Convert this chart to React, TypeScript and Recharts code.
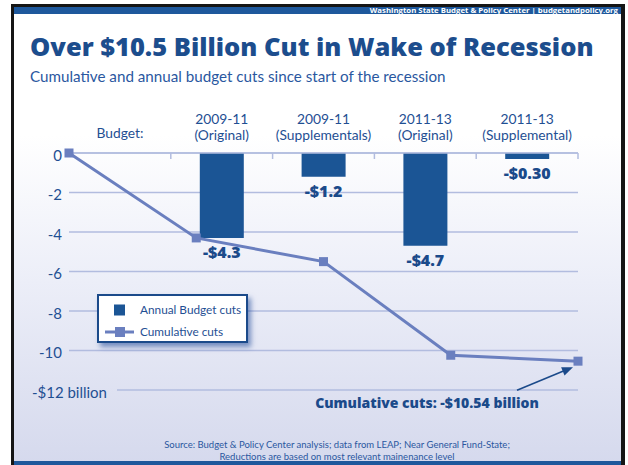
import React from 'react';
import { ComposedChart, Bar, Line, XAxis, YAxis, CartesianGrid, Legend, LabelList } from 'recharts';

const categories = ['Budget:', '2009-11\n(Original)', '2009-11\n(Supplementals)', '2011-13\n(Original)', '2011-13\n(Supplemental)'];
const annualCuts: (number | null)[] = [null, -4.3, -1.2, -4.7, -0.3];
const annualLabels = ['', '-$4.3', '-$1.2', '-$4.7', '-$0.30'];
const cumulativeCuts = [0, -4.3, -5.5, -10.24, -10.54];
const cumulativeNote = 'Cumulative cuts: -$10.54 billion';
const yTicks = [0, -2, -4, -6, -8, -10, -12];
const yTickLabels = ['0', '-2', '-4', '-6', '-8', '-10', '-$12 billion'];
const frameTicks = [0.5, 1, 1.5, 2, 2.5, 3, 3.5, 4, 4.5, 5];
const seriesNames = { annual: 'Annual Budget cuts', cum: 'Cumulative cuts' };

const data = categories.map((cat, i) => ({
  cat,
  idx: i,
  annual: annualCuts[i],
  annualLabel: annualLabels[i] || undefined,
  cum: cumulativeCuts[i],
  note: i === categories.length - 1 ? cumulativeNote : undefined,
}));

const BAR = '#1b5595';
const LINE = '#6a7fbf';
const GRID = '#b2bcdf';
const TEXT = '#1f4f93';
const DARK = '#1b4a8a';
const BODY = 'Lato, "Noto Sans", sans-serif';
const HEAVY = '"Open Sans", "Noto Sans", sans-serif';

const TopTick = (props: any) => {
  const { x, y, payload } = props;
  const v = payload.value;
  if (Number.isInteger(v)) {
    return <line x1={x} y1={y} x2={x} y2={y + 6} stroke={GRID} strokeWidth={1.5} />;
  }
  const lines = categories[Math.floor(v)].split('\n');
  const n = lines.length;
  const lastBase = n === 1 ? y - 15 : y - 13;
  return (
    <g>
      {lines.map((l, i) => (
        <text key={i} x={x} y={lastBase - (n - 1 - i) * 16.5} textAnchor="middle" fontFamily={BODY} fontSize={13.8} fill={TEXT}>
          {l}
        </text>
      ))}
    </g>
  );
};

const YTick = (props: any) => {
  const { x, y, payload } = props;
  const i = yTicks.indexOf(payload.value);
  const label = yTickLabels[i];
  const isLast = i === yTicks.length - 1;
  return (
    <text x={isLast ? x + 45 : x} y={y + 7.5} textAnchor="end" fontFamily={BODY} fontSize={15} fill={TEXT}>
      {label}
    </text>
  );
};

const GridLine = (p: any) => {
  const isBottom =
    p.y != null && p.height != null ? Math.abs(p.y1 - (p.y + p.height)) < 1 : p.index === yTicks.length - 1;
  return (
    <line key={p.key} x1={isBottom ? p.x1 + 48 : p.x1} y1={p.y1} x2={p.x2} y2={p.y2} stroke={GRID} strokeWidth={1.5} />
  );
};

const BarLabel = (props: any) => {
  if (!props.value) return null;
  const vb = props.viewBox || props;
  const bottom = Math.max(vb.y, vb.y + vb.height);
  return (
    <text x={vb.x + vb.width / 2} y={bottom + 20} textAnchor="middle" fontFamily={HEAVY} fontWeight={800} fontSize={16} fill={DARK}>
      {props.value}
    </text>
  );
};

const NoteLabel = (props: any) => {
  if (!props.value) return null;
  const vb = props.viewBox || props;
  const px = vb.x;
  const py = vb.y;
  const sx = px - 61;
  const sy = py + 29;
  const tx = px - 5;
  const ty = py + 6;
  const dx = tx - sx;
  const dy = ty - sy;
  const len = Math.sqrt(dx * dx + dy * dy);
  const ux = dx / len;
  const uy = dy / len;
  const bx = tx - ux * 11;
  const by = ty - uy * 11;
  const nx = -uy;
  const ny = ux;
  return (
    <g>
      <line x1={sx} y1={sy} x2={bx + ux * 2} y2={by + uy * 2} stroke={DARK} strokeWidth={1.6} />
      <polygon points={`${tx},${ty} ${bx + nx * 4.5},${by + ny * 4.5} ${bx - nx * 4.5},${by - ny * 4.5}`} fill={DARK} />
      <text x={px - 151} y={py + 46.5} textAnchor="middle" fontFamily={HEAVY} fontWeight={800} fontSize={14} fill={DARK}>
        {props.value}
      </text>
    </g>
  );
};

const SquareDot = (p: any) => (
  <rect key={`dot-${p.index}`} x={p.cx - 4.5} y={p.cy - 4.5} width={9} height={9} fill={LINE} />
);

const LegendBox = (props: any) => {
  const payload = props.payload || [];
  return (
    <div
      style={{
        width: 151,
        height: 49,
        boxSizing: 'border-box',
        border: `2px solid ${DARK}`,
        background: '#ffffff',
        boxShadow: '3px 4px 5px rgba(25,70,150,0.55)',
        position: 'relative',
      }}
    >
      <svg width={147} height={45} style={{ position: 'absolute', left: 0, top: 0 }}>
        {payload.map((e: any, i: number) => {
          const cy = i === 0 ? 14 : 36;
          const isLine = e.dataKey === 'cum';
          return (
            <g key={i}>
              {isLine ? (
                <g>
                  <line x1={6} y1={cy} x2={35} y2={cy} stroke={LINE} strokeWidth={3} />
                  <rect x={16} y={cy - 5} width={10} height={10} fill={LINE} />
                </g>
              ) : (
                <rect x={15} y={cy - 5.5} width={11} height={11} fill={BAR} />
              )}
              <text x={41} y={cy + 4} fontFamily={BODY} fontSize={11.8} fill={TEXT}>
                {e.value}
              </text>
            </g>
          );
        })}
      </svg>
    </div>
  );
};

export default function App() {
  return (
    <div style={{ position: 'absolute', left: 0, top: 0, width: 628, height: 465, background: '#ffffff', overflow: 'hidden' }}>
      <div style={{ position: 'absolute', left: 11, top: 4, width: 614, height: 461, background: '#151515' }} />
      <div
        style={{
          position: 'absolute',
          left: 14,
          top: 7,
          width: 607,
          height: 458,
          background: 'linear-gradient(to bottom, #ffffff 0%, #ffffff 28%, #eceef8 60%, #d5d9ed 100%)',
        }}
      />
      <div style={{ position: 'absolute', left: 14, top: 7, width: 607, height: 7, background: '#1e589c' }} />
      <div style={{ position: 'absolute', left: 14, top: 461, width: 607, height: 4, background: '#1e589c' }} />
      <svg width={628} height={465} style={{ position: 'absolute', left: 0, top: 0 }}>
        <text x={618} y={12.8} textAnchor="end" fontFamily={HEAVY} fontWeight={700} fontSize={7.8} fill="#ffffff">
          Washington State Budget &amp; Policy Center | budgetandpolicy.org
        </text>
        <text x={30} y={55.5} fontFamily={HEAVY} fontWeight={800} fontSize={25.5} fill="#1c4d8d">
          Over $10.5 Billion Cut in Wake of Recession
        </text>
        <text x={30} y={82} fontFamily={BODY} fontSize={15.2} fill="#2a57a0">
          Cumulative and annual budget cuts since start of the recession
        </text>
        <text x={337} y={448} textAnchor="middle" fontFamily={BODY} fontSize={9.5} fill="#2a57a0">
          Source: Budget &amp; Policy Center analysis; data from LEAP; Near General Fund-State;
        </text>
        <text x={337} y={459.5} textAnchor="middle" fontFamily={BODY} fontSize={9.5} fill="#2a57a0">
          Reductions are based on most relevant mainenance level
        </text>
      </svg>
      <div style={{ position: 'absolute', left: 0, top: 0 }}>
        <ComposedChart width={628} height={465} data={data} margin={{ top: 108, right: 50, bottom: 75, left: 9 }}>
          <CartesianGrid xAxisId="top" vertical={false} horizontal={GridLine as any} />
          <XAxis
            xAxisId="top"
            dataKey="idx"
            type="number"
            domain={[0, categories.length]}
            allowDataOverflow
            ticks={frameTicks}
            interval={0}
            orientation="top"
            height={45}
            axisLine={{ stroke: GRID, strokeWidth: 1.5 }}
            tickLine={false}
            tickSize={0}
            tickMargin={0}
            tick={<TopTick />}
            allowDecimals
          />
          <XAxis xAxisId="bar" dataKey="cat" type="category" hide />
          <XAxis xAxisId="line" dataKey="idx" type="number" domain={[0, categories.length - 1]} hide />
          <YAxis
            domain={[-12, 0]}
            ticks={yTicks}
            interval={0}
            width={60}
            axisLine={false}
            tickLine={false}
            tickSize={0}
            tickMargin={7}
            tick={<YTick />}
          />
          <Legend
            layout="horizontal"
            verticalAlign="middle"
            align="center"
            content={<LegendBox />}
            wrapperStyle={{ left: 97, top: 294, width: 151, height: 49 }}
          />
          <Bar xAxisId="bar" dataKey="annual" name={seriesNames.annual} fill={BAR} barSize={44} isAnimationActive={false}>
            <LabelList dataKey="annualLabel" content={<BarLabel />} />
          </Bar>
          <Line
            xAxisId="line"
            dataKey="cum"
            name={seriesNames.cum}
            stroke={LINE}
            strokeWidth={3}
            dot={SquareDot}
            activeDot={false}
            isAnimationActive={false}
          >
            <LabelList dataKey="note" content={<NoteLabel />} />
          </Line>
        </ComposedChart>
      </div>
    </div>
  );
}
